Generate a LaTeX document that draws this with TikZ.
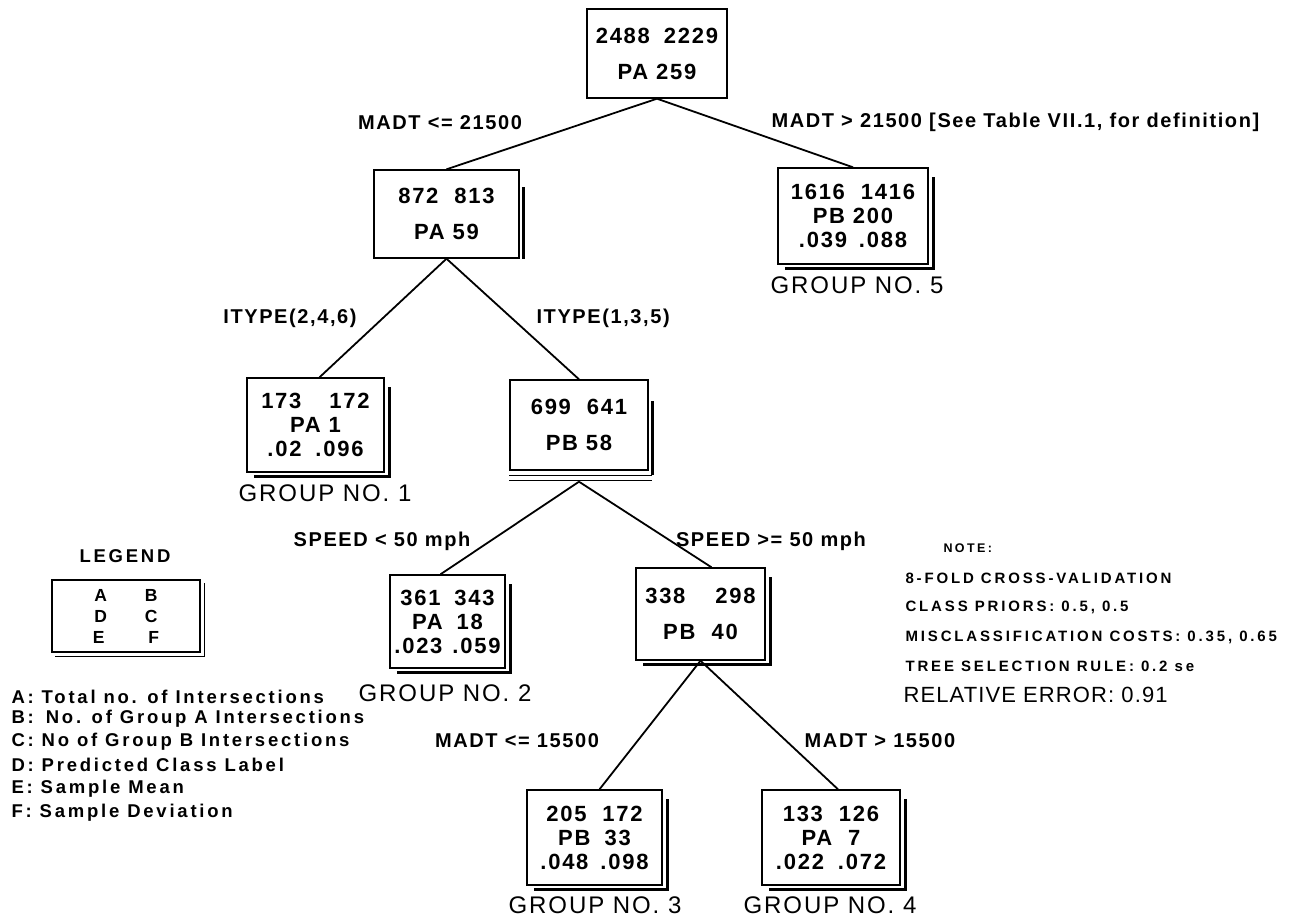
\documentclass[tikz,border=0pt]{standalone}
\usepackage{fontspec}
\setmainfont{Liberation Sans}
\newfontfamily\lsp[LetterSpace=8]{Liberation Sans}
\newfontfamily\lspw[LetterSpace=15]{Liberation Sans}
\newfontfamily\lspn[LetterSpace=19]{Liberation Sans}
\newfontfamily\lspr[LetterSpace=5]{Liberation Sans}
\begin{document}
\begin{tikzpicture}[x=1pt,y=-1pt,
  box/.style={draw, line width=1.4pt, inner sep=0pt, align=center,
    font=\lsp\bfseries\fontsize{22}{24}\selectfont},
  shade/.style={line width=2.6pt},
  thinshade/.style={line width=1.1pt},
  edge/.style={line width=1.8pt},
  cond/.style={font=\lsp\bfseries\fontsize{20}{24}\selectfont},
  grp/.style={font=\lsp\fontsize{24}{28}\selectfont},
  legtxt/.style={font=\lspw\bfseries\fontsize{18.5}{21}\selectfont, anchor=west},
  notetxt/.style={font=\lspn\bfseries\fontsize{15}{18}\selectfont, anchor=west}]
\useasboundingbox (0,0) rectangle (1297,918);

% ---- tree nodes ----
\node[box, minimum width=140, minimum height=89] (n0) at (657,53.5)
  {2488\hspace{14pt}2229\\[12pt]PA 259};
\node[box, minimum width=145, minimum height=88] (n1) at (446.5,214)
  {872\hspace{16pt}813\\[12pt]PA 59};
\node[box, minimum width=150, minimum height=96] (n2) at (853,216)
  {1616\hspace{16pt}1416\\PB 200\\.039\hspace{12pt}.088};
\node[box, minimum width=137, minimum height=94] (n3) at (315.5,425)
  {173\hspace{28pt}172\\PA 1\\.02\hspace{14pt}.096};
\node[box, minimum width=138, minimum height=90] (n4) at (579,425)
  {699\hspace{16pt}641\\[12pt]PB 58};
\node[box, minimum width=115, minimum height=93] (n5) at (447.5,621.5)
  {361\hspace{14pt}343\\PA\hspace{14pt}18\\.023\hspace{10pt}.059};
\node[box, minimum width=129, minimum height=92] (n6) at (700.5,614)
  {338\hspace{30pt}298\\[12pt]PB\hspace{16pt}40};
\node[box, minimum width=135, minimum height=95] (n7) at (594.5,837.5)
  {205\hspace{16pt}172\\PB\hspace{14pt}33\\.048\hspace{12pt}.098};
\node[box, minimum width=138, minimum height=95] (n8) at (831,837.5)
  {133\hspace{16pt}126\\PA\hspace{16pt}7\\.022\hspace{14pt}.072};

% ---- shadows ----
\draw[shade] ([xshift=4pt,yshift=-18pt]n1.north east) -- ([xshift=4pt]n1.south east);
\foreach \n in {n2,n3,n5,n6,n7,n8}{
  \draw[shade] ([xshift=5pt,yshift=-10pt]\n.north east) -- ([xshift=5pt,yshift=-4pt]\n.south east)
    -- ([xshift=8pt,yshift=-4pt]\n.south west);
}
\draw[shade] ([xshift=4pt,yshift=-22pt]n4.north east) -- ([xshift=4pt,yshift=-4pt]n4.south east);
\draw[thinshade] ([yshift=-5pt]n4.south west) -- ([xshift=3pt,yshift=-5pt]n4.south east);
\draw[thinshade] ([yshift=-10pt]n4.south west) -- ([xshift=3pt,yshift=-10pt]n4.south east);
\coordinate (n4b) at ([yshift=-11pt]n4.south);

% ---- branches ----
\draw[edge] (n0.south) -- (n1.north);
\draw[edge] (n0.south) -- (n2.north);
\draw[edge] (n1.south) -- ([xshift=4pt]n3.north);
\draw[edge] (n1.south) -- (n4.north);
\draw[edge] (n4b) -- ([xshift=-7pt]n5.north);
\draw[edge] (n4b) -- ([xshift=11pt]n6.north);
\draw[edge] (n6.south) -- ([xshift=5pt]n7.north);
\draw[edge] (n6.south) -- ([xshift=7pt]n8.north);

% ---- split conditions ----
\node[cond] (c1) at (440,123) {MADT <= 21500};
\node[cond, anchor=west] (c2) at (768,122) {MADT > 21500 [See Table VII.1, for definition]};
\node[cond] (c3) at (290,318) {ITYPE(2,4,6)};
\node[cond, anchor=west] (c4) at (533,318) {ITYPE(1,3,5)};
\node[cond] (c5) at (382,541) {SPEED < 50 mph};
\node[cond] (c6) at (771,541) {SPEED >= 50 mph};
\node[cond] (c7) at (517,741) {MADT <= 15500};
\node[cond] (c8) at (880,741) {MADT > 15500};

% ---- terminal groups ----
\node[grp] (g5) at (857,285) {GROUP NO. 5};
\node[grp] (g1) at (325,493) {GROUP NO. 1};
\node[grp] (g2) at (445,693) {GROUP NO. 2};
\node[grp] (g3) at (595,905) {GROUP NO. 3};
\node[grp] (g4) at (830,905) {GROUP NO. 4};

% ---- legend ----
\node[font=\lspw\bfseries\fontsize{18.5}{21}\selectfont] (legt) at (125,556) {LEGEND};
\node[draw, line width=1.2pt, minimum width=148, minimum height=72, inner sep=0pt, align=center,
  font=\lspw\bfseries\fontsize{17.5}{21}\selectfont] (leg) at (126,616)
  {A\hspace{38pt}B\\D\hspace{38pt}C\\E\hspace{44pt}F};
\draw[thinshade] ([xshift=4pt,yshift=-4pt]leg.north east) -- ([xshift=4pt,yshift=-4pt]leg.south east)
  -- ([xshift=4pt,yshift=-4pt]leg.south west);
\node[legtxt] (la) at (8,697) {A: Total no. of Intersections};
\node[legtxt] (lb) at (8,719) {B:\hspace{12pt}No. of Group A Intersections};
\node[legtxt] (lc) at (8,742) {C: No of Group B Intersections};
\node[legtxt] (ld) at (8,765) {D: Predicted Class Label};
\node[legtxt] (le) at (8,789) {E: Sample Mean};
\node[legtxt] (lf) at (8,813) {F: Sample Deviation};

% ---- note ----
\node[font=\lspn\bfseries\fontsize{12.5}{15}\selectfont, anchor=west] (nt) at (940,548) {NOTE:};
\node[notetxt] (nl1) at (902,578) {8-FOLD CROSS-VALIDATION};
\node[notetxt] (nl2) at (902,607) {CLASS PRIORS: 0.5, 0.5};
\node[notetxt] (nl3) at (902,637) {MISCLASSIFICATION COSTS: 0.35, 0.65};
\node[notetxt] (nl4) at (902,666) {TREE SELECTION RULE: 0.2 se};
\node[font=\lspr\fontsize{22}{26}\selectfont, anchor=west] (nl5) at (900,695) {RELATIVE ERROR: 0.91};
\end{tikzpicture}
\end{document}
